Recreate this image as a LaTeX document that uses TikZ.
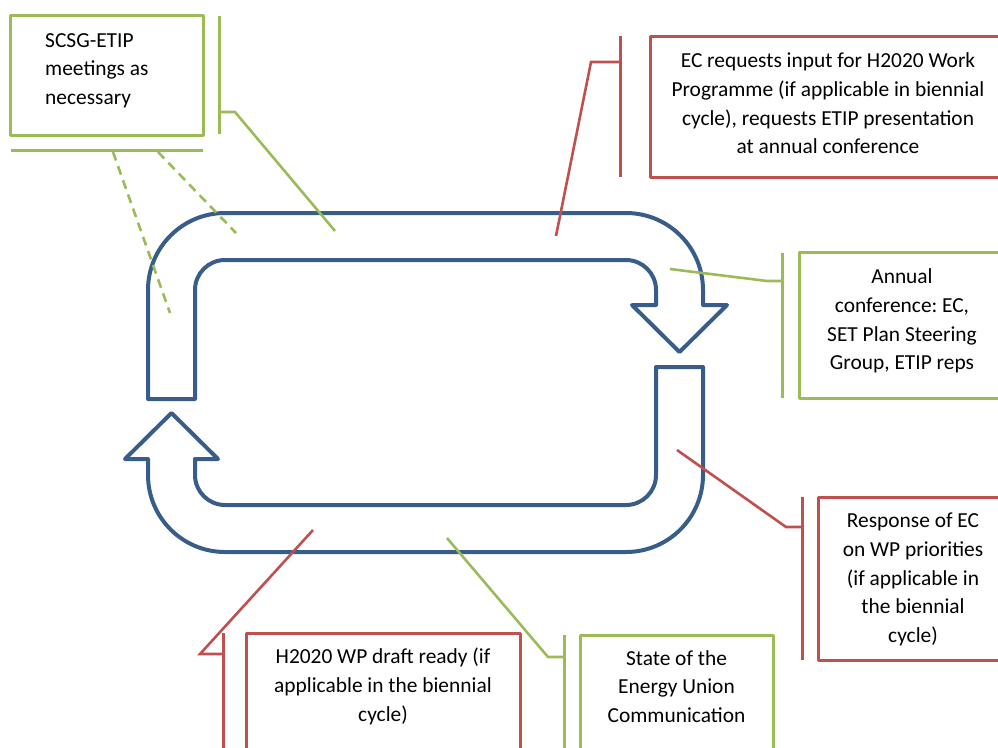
\documentclass[tikz,border=0pt]{standalone}
\usepackage{fontspec}
\setmainfont{Carlito}
\frenchspacing
\usepackage{tikz}
\usetikzlibrary{positioning}
\usepackage{xcolor}
\definecolor{loopblue}{HTML}{385D8A}
\definecolor{accgreen}{HTML}{9BBB59}
\definecolor{accred}{HTML}{C0504D}

\tikzset{
	callbox/.style={draw, line width=3pt, line join=round, inner sep=0pt},
	greenbox/.style={callbox, draw=accgreen},
	redbox/.style={callbox, draw=accred},
	boxtext/.style={inner sep=0pt, align=center, font=\fontsize{21.4}{28.6}\selectfont},
	accbar/.style={line width=3pt},
	leader/.style={line width=2.6pt, line join=miter},
	loopline/.style={draw=loopblue, line width=4pt, line join=round}
}

\begin{document}
\begin{tikzpicture}[x=1pt, y=-1pt]
	\clip (0,0) rectangle (998,747);

	% cycle arrows
	\draw[loopline] (148,399) -- (148,290) arc[start angle=180, end angle=90, radius=77pt]
		-- (626,213) arc[start angle=90, end angle=0, radius=77pt]
		-- (703,305) -- (727,305) -- (679.5,352) -- (632,305) -- (656,305)
		-- (656,290) arc[start angle=0, end angle=90, radius=30pt]
		-- (225,260) arc[start angle=90, end angle=180, radius=30pt]
		-- (195,399) -- cycle;
	\draw[loopline] (703,367) -- (703,475) arc[start angle=0, end angle=-90, radius=77pt]
		-- (225,552) arc[start angle=270, end angle=180, radius=77pt]
		-- (148,459) -- (125,459) -- (171.5,413) -- (218,459) -- (195,459)
		-- (195,475) arc[start angle=180, end angle=270, radius=30pt]
		-- (626,505) arc[start angle=270, end angle=360, radius=30pt]
		-- (656,367) -- cycle;

	% callout boxes
	\node[greenbox, minimum width=193pt, minimum height=120pt] at (106.5,75) (scsg) {};
	\node[boxtext, align=left, anchor=west] at (45,70.5) (scsgtxt)
		{SCSG-ETIP\\meetings as\\necessary};
	\node[redbox, minimum width=356pt, minimum height=141pt] at (828,106.5) (ecreq) {};
	\node[boxtext] at ([yshift=3pt]ecreq.center) (ecreqtxt)
		{EC requests input for H2020 Work\\Programme (if applicable in biennial\\cycle), requests ETIP presentation\\at annual conference};
	\node[greenbox, minimum width=206pt, minimum height=146pt] at (902,325) (annual) {};
	\node[boxtext] at ([yshift=4pt]annual.center) (annualtxt)
		{Annual\\conference: EC,\\SET Plan Steering\\Group, ETIP reps};
	\node[redbox, minimum width=190pt, minimum height=163pt] at (913,578.5) (resp) {};
	\node[boxtext] at ([yshift=-1pt]resp.center) (resptxt)
		{Response of EC\\on WP priorities\\(if applicable in\\the biennial\\cycle)};
	\node[redbox, minimum width=274pt, minimum height=160pt, anchor=north] at (383,632) (draft) {};
	\node[boxtext, below=16pt of draft.north] (drafttxt)
		{H2020 WP draft ready (if\\applicable in the biennial\\cycle)};
	\node[greenbox, minimum width=193pt, minimum height=160pt, anchor=north] at (676.5,634) (seu) {};
	\node[boxtext, below=16pt of seu.north] (seutxt)
		{State of the\\Energy Union\\Communication};

	% accent bars
	\draw[accbar, accgreen] (219,16) -- (219,134);
	\draw[accbar, accgreen] (11,150) -- (203,150);
	\draw[accbar, accred] (620,36) -- (620,177);
	\draw[accbar, accgreen] (782,253) -- (782,398);
	\draw[accbar, accred] (802,497) -- (802,660);
	\draw[accbar, accred] (223,633) -- (223,760);
	\draw[accbar, accgreen] (564,635) -- (564,760);

	% leader lines
	\coordinate (scsg-a) at (219,112);
	\coordinate (scsg-tip) at (335,231);
	\coordinate (scsg-b) at (113,152);
	\coordinate (scsg-btip) at (170,313);
	\coordinate (scsg-c) at (158,152);
	\coordinate (scsg-ctip) at (236,233);
	\coordinate (ecreq-a) at (620,62);
	\coordinate (ecreq-tip) at (556,236);
	\coordinate (annual-a) at (782,281);
	\coordinate (annual-tip) at (670,269);
	\coordinate (resp-a) at (802,527);
	\coordinate (resp-tip) at (677,450);
	\coordinate (draft-a) at (223,654);
	\coordinate (draft-tip) at (313,530);
	\coordinate (seu-a) at (564,657);
	\coordinate (seu-tip) at (447,538);

	\draw[leader, accgreen] (scsg-a) -- (235,112) -- (scsg-tip);
	\draw[leader, accgreen, dash pattern=on 9pt off 6pt] (scsg-b) -- (scsg-btip);
	\draw[leader, accgreen, dash pattern=on 9pt off 6pt] (scsg-c) -- (scsg-ctip);
	\draw[leader, accred] (ecreq-a) -- (591,62) -- (ecreq-tip);
	\draw[leader, accgreen] (annual-a) -- (767,281) -- (annual-tip);
	\draw[leader, accred] (resp-a) -- (786,527) -- (resp-tip);
	\draw[leader, accred] (draft-a) -- (200,654) -- (draft-tip);
	\draw[leader, accgreen] (seu-a) -- (548,657) -- (seu-tip);
\end{tikzpicture}
\end{document}
